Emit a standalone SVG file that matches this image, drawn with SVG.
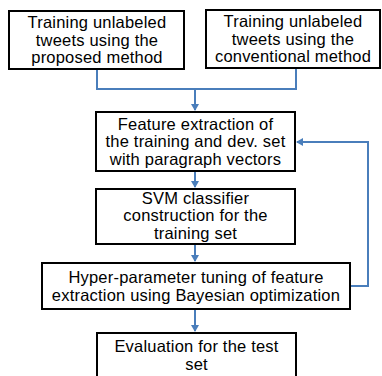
<svg xmlns="http://www.w3.org/2000/svg" width="382" height="376" viewBox="0 0 382 376">
<style>
.box{fill:#fff;stroke:#000;stroke-width:2}
.t{font-family:"Liberation Sans",Arial,sans-serif;font-size:16.5px;letter-spacing:0.2px;fill:#000;text-anchor:middle}
.c{fill:none;stroke:#4a7ebb;stroke-width:2}
</style>
<defs>
<marker id="ah" markerWidth="8" markerHeight="8" refX="6" refY="4" orient="auto" markerUnits="userSpaceOnUse">
<path d="M0,0 L7,4 L0,8 Z" fill="#4a7ebb"/>
</marker>
</defs>
<rect width="382" height="376" fill="#fff"/>
<g id="connectors">
<path class="c" d="M97,69 V89 H195 V110" marker-end="url(#ah)"/>
<path class="c" d="M296,68 V89 H195"/>
<path class="c" d="M195,171 V187" marker-end="url(#ah)"/>
<path class="c" d="M195,244 V261" marker-end="url(#ah)"/>
<path class="c" d="M195,309 V331" marker-end="url(#ah)"/>
<path class="c" d="M350,286 H368 V142 H297" marker-end="url(#ah)"/>
</g>
<g id="n1">
<rect class="box" x="9" y="11" width="175" height="58"/>
<text class="t" x="97" y="28">Training unlabeled</text>
<text class="t" x="97" y="45.5">tweets using the</text>
<text class="t" x="97" y="63">proposed method</text>
</g>
<g id="n2">
<rect class="box" x="206" y="10" width="174" height="58"/>
<text class="t" x="293" y="27">Training unlabeled</text>
<text class="t" x="293" y="44.5">tweets using the</text>
<text class="t" x="293" y="62">conventional method</text>
</g>
<g id="n3">
<rect class="box" x="96" y="112" width="199" height="59"/>
<text class="t" x="195.5" y="129.5">Feature extraction of</text>
<text class="t" x="195.5" y="147">the training and dev. set</text>
<text class="t" x="195.5" y="164.5">with paragraph vectors</text>
</g>
<g id="n4">
<rect class="box" x="96" y="189" width="199" height="55"/>
<text class="t" x="195.5" y="203.5">SVM classifier</text>
<text class="t" x="195.5" y="221">construction for the</text>
<text class="t" x="195.5" y="238.5">training set</text>
</g>
<g id="n5">
<rect class="box" x="42" y="263" width="308" height="46"/>
<text class="t" x="196" y="283">Hyper-parameter tuning of feature</text>
<text class="t" x="196" y="301">extraction using Bayesian optimization</text>
</g>
<g id="n6">
<rect class="box" x="97" y="333" width="199" height="46"/>
<text class="t" x="196.5" y="352">Evaluation for the test</text>
<text class="t" x="196.5" y="370">set</text>
</g>
</svg>
